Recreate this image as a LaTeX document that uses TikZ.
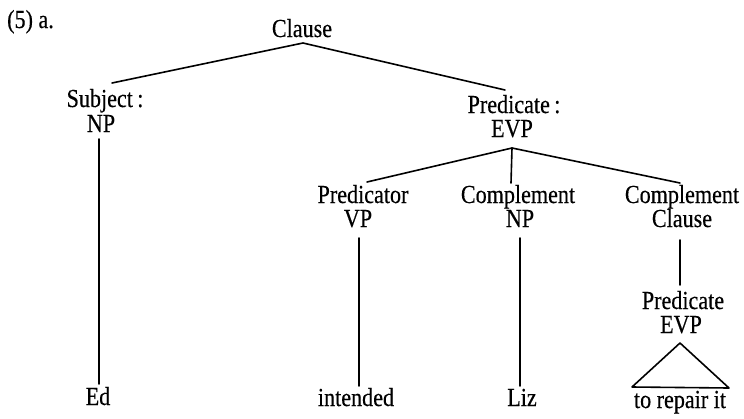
\documentclass[tikz,border=0pt]{standalone}
\usepackage{fontspec}
\setmainfont{Liberation Serif}[FakeStretch=0.85,FakeBold=0.4]
\newcommand{\treefont}{\fontsize{26}{27}\selectfont}
\begin{document}
\begin{tikzpicture}[x=1pt,y=-1pt,
  lbl/.style={anchor=base,inner sep=0pt,font=\treefont},
  branch/.style={line width=1.6pt,line cap=round,line join=round}]
\useasboundingbox (0,0) rectangle (744,418);

% example number
\node[lbl,anchor=base west] (exnum) at (7,28) {(5) a.};

% top level
\node[lbl] (clause) at (302,37) {Clause};
\node[lbl] (subj) at (105,107) {Subject\,:};
\node[lbl] (subjnp) at (101,132) {NP};
\node[lbl] (pred) at (514,113) {Predicate\,:};
\node[lbl] (predevp) at (512,137) {EVP};

% daughters of the predicate
\node[lbl] (predr) at (363,203) {Predicator};
\node[lbl] (predrvp) at (358,227) {VP};
\node[lbl] (compa) at (518,203) {Complement};
\node[lbl] (companp) at (520,227) {NP};
\node[lbl] (compb) at (682,203) {Complement};
\node[lbl] (compbcl) at (682,227) {Clause};
\node[lbl] (pred2) at (683,309) {Predicate};
\node[lbl] (pred2evp) at (681,333) {EVP};

% leaves
\node[lbl] (ed) at (98,405) {Ed};
\node[lbl] (intended) at (356,406) {intended};
\node[lbl] (liz) at (522,406) {Liz};
\node[lbl] (repair) at (680,408) {to repair it};

% branch points
\coordinate (clausefoot) at (303,43);
\coordinate (subjtop) at (112,83);
\coordinate (predtop) at (505,90);
\coordinate (predfoot) at (512,148);
\coordinate (predrtop) at (367,182);
\coordinate (compatop) at (511,183);
\coordinate (compbtop) at (680,183);
\coordinate (subjfoot) at (99,139);
\coordinate (edtop) at (99,384);
\coordinate (predrfoot) at (359,238);
\coordinate (intendedtop) at (359,386);
\coordinate (compafoot) at (520,238);
\coordinate (liztop) at (520,386);
\coordinate (compbfoot) at (680,240);
\coordinate (pred2top) at (680,285);
\coordinate (apex) at (680,343);
\coordinate (baseleft) at (632,387);
\coordinate (baseright) at (729,388);

\draw[branch] (subjtop) -- (clausefoot) -- (predtop);
\draw[branch] (predrtop) -- (predfoot) -- (compbtop);
\draw[branch] (predfoot) -- (compatop);
\draw[branch] (subjfoot) -- (edtop);
\draw[branch] (predrfoot) -- (intendedtop);
\draw[branch] (compafoot) -- (liztop);
\draw[branch] (compbfoot) -- (pred2top);
\draw[branch] (apex) -- (baseleft) -- (baseright) -- cycle;
\end{tikzpicture}
\end{document}
